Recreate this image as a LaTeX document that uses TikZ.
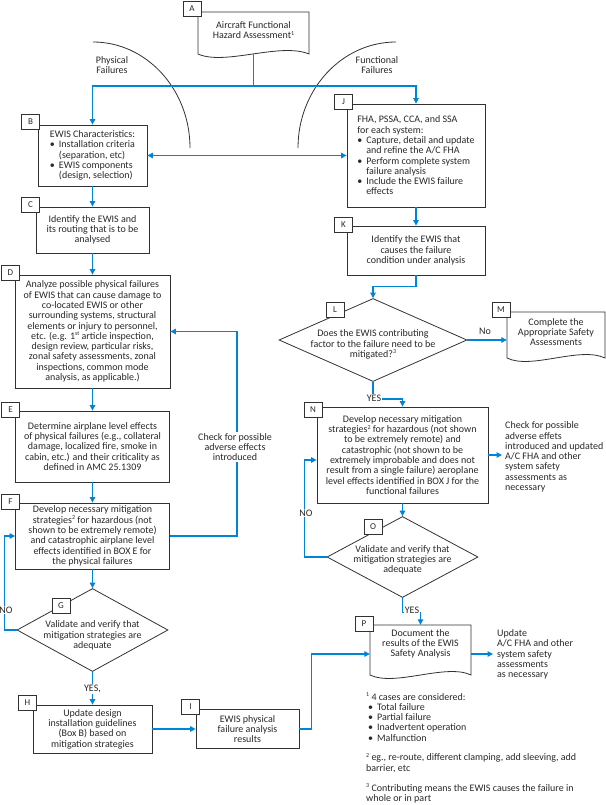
\documentclass[tikz,border=0pt]{standalone}
\usepackage{fontspec}
\setmainfont{Carlito}
\usetikzlibrary{arrows.meta,shapes.geometric}
\definecolor{bluec}{RGB}{0,133,214}
\definecolor{linec}{RGB}{50,50,50}
\definecolor{txtc}{RGB}{40,40,40}
\newcommand\myb{\textbullet\hspace{4bp}}
\newcommand\myi{\hphantom{\textbullet\hspace{4bp}}}
\newcommand\mysup[1]{\raisebox{0.75ex}{\fontsize{6bp}{6bp}\selectfont #1}}
\begin{document}
\begin{tikzpicture}[x=1bp,y=-1bp,
  font=\fontsize{10bp}{10.3bp}\selectfont,
  every node/.style={text=txtc},
  bx/.style={draw=linec, line width=0.8bp, inner sep=0pt, align=center},
  shp/.style={draw=linec, line width=0.8bp},
  lab/.style={draw=linec, line width=0.8bp, fill=white, minimum width=18bp, minimum height=15bp, inner sep=0pt, font=\fontsize{9bp}{10bp}\selectfont},
  ghost/.style={inner sep=0pt},
  dia/.style={diamond, draw=linec, line width=0.8bp, inner sep=0pt},
  wire/.style={draw=bluec, line width=1.2bp},
  flow/.style={wire, -{Triangle[length=5.5bp,width=5.5bp]}},
  onl/.style={fill=white, inner sep=1bp, align=center},
  txt/.style={inner sep=0pt, align=center}]
\useasboundingbox (0,0) rectangle (606,805);

% arcs
\draw[shp] (93,42) .. controls (146.6,42) and (190,89.5) .. (190,148);
\draw[shp] (396,42) .. controls (341.9,42) and (298,89.5) .. (298,148);
\node[txt] (phys) at (112,65) {Physical\\Failures};
\node[txt] (func) at (377,65) {Functional\\Failures};

% document shapes
\draw[shp, fill=white] (198,12) -- (309,12) -- (309,54) .. controls (280,42) and (225,66) .. (198,54) -- cycle;
\node[ghost, minimum width=111bp, minimum height=42bp] (A) at (253.5,33) {};
\node[txt] (Atext) at (253.5,30) {Aircraft Functional\\Hazard Assessment\mysup{1}};

\draw[shp, fill=white] (507,312) -- (605,312) -- (605,358) .. controls (580,346) and (531,370) .. (507,358) -- cycle;
\node[ghost, minimum width=98bp, minimum height=46bp] (M) at (556,335) {};
\node[txt] (Mtext) at (556,332) {Complete the\\Appropriate Safety\\Assessments};

\draw[shp, fill=white] (370,625) -- (471,625) -- (471,675) .. controls (446,663) and (395,687) .. (370,675) -- cycle;
\node[ghost, minimum width=101bp, minimum height=50bp] (P) at (420.5,650) {};
\node[txt] (Ptext) at (420.5,644) {Document the\\results of the EWIS\\Safety Analysis};

% boxes
\node[bx, align=left, minimum width=109bp, minimum height=61bp] (B) at (92.5,155.5)
 {EWIS Characteristics:\\\myb Installation criteria\\\myi(separation, etc)\\\myb EWIS components\\\myi(design, selection)};
\node[bx, minimum width=113bp, minimum height=46bp] (C) at (92.5,230)
 {Identify the EWIS and\\its routing that is to be\\analysed};
\node[bx, minimum width=155bp, minimum height=113bp] (D) at (92.5,331.5)
 {Analyze possible physical failures\\of EWIS that can cause damage to\\co-located EWIS or other\\surrounding systems, structural\\elements or injury to personnel,\\etc. (e.g. 1\mysup{st} article inspection,\\design review, particular risks,\\zonal safety assessments, zonal\\inspections, common mode\\analysis, as applicable.)};
\node[bx, minimum width=154bp, minimum height=71bp] (E) at (92.5,446.5)
 {Determine airplane level effects\\of physical failures (e.g., collateral\\damage, localized fire, smoke in\\cabin, etc.) and their criticality as\\defined in AMC 25.1309};
\node[bx, minimum width=154bp, minimum height=66bp] (F) at (92.5,536)
 {Develop necessary mitigation\\strategies\mysup{2} for hazardous (not\\shown to be extremely remote)\\and catastrophic airplane level\\effects identified in BOX E for\\the physical failures};
\node[dia, minimum width=151bp, minimum height=83bp] (G) at (92.5,630) {};
\node[txt] (Gtext) at (92.5,635.5) {Validate and verify that\\mitigation strategies are\\adequate};
\node[bx, minimum width=119bp, minimum height=48bp] (H) at (92.5,729)
 {Update design\\installation guidelines\\(Box B) based on\\mitigation strategies};
\node[bx, minimum width=103bp, minimum height=39bp] (I) at (247.5,729)
 {EWIS physical\\failure analysis\\results};
\node[bx, align=left, minimum width=138bp, minimum height=103bp] (J) at (416,155.5)
 {FHA, PSSA, CCA, and SSA\\for each system:\\\myb Capture, detail and update\\\myi and refine the A/C FHA\\\myb Perform complete system\\\myi failure analysis\\\myb Include the EWIS failure\\\myi effects};
\node[bx, minimum width=138bp, minimum height=49bp] (K) at (416,250.5)
 {Identify the EWIS that\\causes the failure\\condition under analysis};
\node[dia, minimum width=188bp, minimum height=83bp] (L) at (373,340) {};
\node[txt] (Ltext) at (373,344.5) {Does the EWIS contributing\\factor to the failure need to be\\mitigated?\mysup{3}};
\node[bx, minimum width=171bp, minimum height=96bp] (N) at (402.5,455)
 {Develop necessary mitigation\\strategies\mysup{2} for hazardous (not shown\\to be extremely remote) and\\catastrophic (not shown to be\\extremely improbable and does not\\result from a single failure) aeroplane\\level effects identified in BOX J for the\\functional failures};
\node[dia, minimum width=151bp, minimum height=81bp] (O) at (402.5,557) {};
\node[txt] (Otext) at (402.5,560) {Validate and verify that\\mitigation strategies are\\adequate};

% side notes
\node[inner ysep=0pt, inner xsep=3bp, align=left, anchor=west] (Nnote) at (502,457)
 {Check for possible\\adverse effets\\introduced and updated\\A/C FHA and other\\system safety\\assessments as\\necessary};
\node[inner ysep=0pt, inner xsep=4bp, align=left, anchor=west] (Pnote) at (493,654.5)
 {Update\\A/C FHA and other\\system safety\\assessments\\as necessary};

% footnotes
\node[inner sep=0pt, align=left, anchor=west] (fn1) at (366,717)
 {\mysup{1} 4 cases are considered:\\\hspace*{2bp}\textbullet\hspace{4bp}Total failure\\\hspace*{2bp}\textbullet\hspace{4bp}Partial failure\\\hspace*{2bp}\textbullet\hspace{4bp}Inadvertent operation\\\hspace*{2bp}\textbullet\hspace{4bp}Malfunction};
\node[inner sep=0pt, align=left, anchor=west] (fn2) at (366,763)
 {\mysup{2} eg., re-route, different clamping, add sleeving, add\\barrier, etc};
\node[inner sep=0pt, align=left, anchor=west] (fn3) at (366,793.5)
 {\mysup{3} Contributing means the EWIS causes the failure in\\whole or in part};

% labels
\node[lab] (lA) at (192,8.5) {A};
\node[lab] (lB) at (30.5,121.5) {B};
\node[lab] (lC) at (30.5,204.5) {C};
\node[lab] (lD) at (10.5,273) {D};
\node[lab] (lE) at (10.5,409.5) {E};
\node[lab] (lF) at (10.5,502) {F};
\node[lab] (lG) at (61,605.5) {G};
\node[lab] (lH) at (27.5,702.5) {H};
\node[lab] (lI) at (190.5,707) {I};
\node[lab] (lJ) at (343.5,101.5) {J};
\node[lab] (lK) at (343.5,224.5) {K};
\node[lab] (lL) at (335,310) {L};
\node[lab] (lM) at (501,309.5) {M};
\node[lab] (lN) at (313,410) {N};
\node[lab] (lO) at (373,526.5) {O};
\node[lab] (lP) at (364,624) {P};

% connectors
\coordinate (Aj) at (253.5,86);
\draw[flow] (A.south) -- (Aj) -| (B.north);
\draw[flow] (A.south) -- (Aj) -| (J.north);
\draw[wire, {Triangle[length=5.5bp,width=5.5bp]}-{Triangle[length=5.5bp,width=5.5bp]}] (B.east) -- (J.west);
\draw[flow] (B.south) -- (C.north);
\draw[flow] (C.south) -- (D.north);
\draw[flow] (D.south) -- (E.north);
\draw[flow] (E.south) -- (F.north);
\draw[flow] (F.south) -- (G.north);
\draw[flow] (G.south) -- (H.north);
\draw[flow] (G.west) -- ++(-12,0) |- (F.west);
\draw[flow] (F.east) -- ++(67,0) |- (D.east);
\draw[flow] (H.east) -- (I.west);
\coordinate (Pw) at ([yshift=-4bp]P.west);
\draw[flow] (I.east) -- ++(12,0) |- (Pw);
\draw[flow] (J.south) -- (K.north);
\draw[flow] (K.south) -- ++(0,11) -| (L.north);
\draw[flow] (L.east) -- (L.east -| M.west);
\draw[flow] (L.south) -- ++(0,17) -| (N.north);
\draw[flow] (N.east) -- (N.east -| Nnote.west);
\draw[flow] (N.south) -- (O.north);
\coordinate (Nw) at ([yshift=-5bp]N.west);
\draw[flow] (O.west) -- ++(-22,0) |- (Nw);
\draw[flow] (O.south) -- ++(0,14.5) -| (P.north);
\coordinate (Pe) at ([yshift=-4bp]P.east);
\draw[flow] (Pe) -- (Pe -| Pnote.west);

% connector labels
\node[onl] (yesG) at (92.5,689) {YES,};
\node[onl] (noG) at (6,610) {NO};
\node[onl] (chk) at (235,447) {Check for possible\\adverse effects\\introduced};
\node[txt] (noL) at (485,331) {No};
\node[onl] (yesL) at (374,398.5) {YES};
\node[onl] (noO) at (306,513) {NO};
\node[onl] (yesO) at (412,610) {YES};
\end{tikzpicture}
\end{document}
